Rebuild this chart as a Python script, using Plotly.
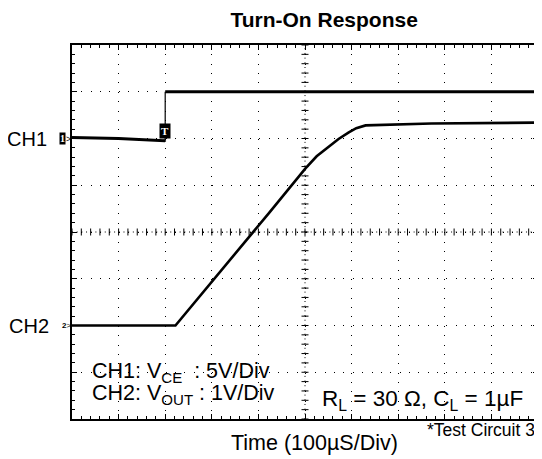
import numpy as np
import plotly.graph_objects as go

# ---- data (in scope divisions: x 0..10, y 0..8) ----
ch1_x = [0.0, 1.0, 1.98, 2.0, 2.0, 10.0]
ch1_y = [6.02, 6.0, 5.95, 5.97, 7.0, 7.0]

ch2_x = [0.0, 2.22, 4.23, 5.01, 5.25, 5.51, 5.72, 5.94, 6.10, 6.30, 7.71, 10.0]
ch2_y = [2.0, 2.0, 4.41, 5.36, 5.62, 5.82, 5.99, 6.13, 6.22, 6.28, 6.32, 6.34]

trigger_x = 2.0
n_xdiv = 10
n_ydiv = 8

FONT = "Arial, Liberation Sans, sans-serif"
FIG_W, FIG_H = 534, 451

fig = go.Figure()

# centre cross minor ticks (scope graticule)
cx = n_xdiv / 2
cy = n_ydiv / 2
tx = np.arange(0, n_xdiv + 0.001, 0.2)
ty = np.arange(0, n_ydiv + 0.001, 0.2)
fig.add_trace(go.Scatter(x=tx, y=[cy] * len(tx), mode="markers",
                         marker=dict(symbol="line-ns-open", size=5, color="black",
                                     line=dict(width=1, color="black")),
                         hoverinfo="skip", showlegend=False))
fig.add_trace(go.Scatter(x=[cx] * len(ty), y=ty, mode="markers",
                         marker=dict(symbol="line-ew-open", size=5, color="black",
                                     line=dict(width=1, color="black")),
                         hoverinfo="skip", showlegend=False))

# CH1 trace: flat before trigger, jump, flat after
fig.add_trace(go.Scatter(x=ch1_x[:4], y=ch1_y[:4], mode="lines",
                         line=dict(color="black", width=3), showlegend=False))
fig.add_trace(go.Scatter(x=ch1_x[3:5], y=ch1_y[3:5], mode="lines",
                         line=dict(color="black", width=1.2), showlegend=False))
fig.add_trace(go.Scatter(x=ch1_x[4:], y=ch1_y[4:], mode="lines",
                         line=dict(color="black", width=3.2), showlegend=False))
# CH2 trace
fig.add_trace(go.Scatter(x=ch2_x, y=ch2_y, mode="lines",
                         line=dict(color="black", width=2.6), showlegend=False))

# centre lines denser dots
fig.add_shape(type="line", x0=cx, x1=cx, y0=0, y1=n_ydiv, xref="x", yref="y",
              line=dict(color="black", width=1, dash="1px,3.68px"), layer="below")
fig.add_shape(type="line", x0=0, x1=n_xdiv, y0=cy, y1=cy, xref="x", yref="y",
              line=dict(color="black", width=1, dash="1px,3.68px"), layer="below")

ann = []
# channel labels
ann.append(dict(x=0, y=6.0, xref="x", yref="y", text="CH1", showarrow=False,
                xanchor="right", xshift=-23, font=dict(size=20, color="black", family=FONT)))
ann.append(dict(x=0, y=2.0, xref="x", yref="y", text="CH2", showarrow=False,
                xanchor="right", xshift=-21, font=dict(size=20, color="black", family=FONT)))
ann.append(dict(x=0, y=6.0, xref="x", yref="y", text="<b>1</b>", showarrow=False,
                xanchor="right", xshift=-6, bgcolor="black", borderpad=0,
                font=dict(size=10, color="white", family="Liberation Serif, serif")))
ann.append(dict(x=0, y=6.0, xref="x", yref="y", text=">", showarrow=False,
                xanchor="right", xshift=1, font=dict(size=9, color="black", family=FONT)))
ann.append(dict(x=0, y=2.0, xref="x", yref="y", text="<b>2</b>>", showarrow=False,
                xanchor="right", xshift=1, font=dict(size=8, color="black", family=FONT)))
# trigger marker
ann.append(dict(x=trigger_x, y=6.15, xref="x", yref="y", text="<b>T</b>", showarrow=False,
                bgcolor="black", borderpad=1,
                font=dict(size=11, color="white", family="Liberation Serif, serif")))
# in-plot notes
ann.append(dict(x=0.38, y=1.0, xref="x", yref="y", xanchor="left",
                text="CH1: V<sub>CE</sub>\u00a0\u00a0: 5V/Div", showarrow=False,
                font=dict(size=21.5, color="black", family=FONT)))
ann.append(dict(x=0.38, y=0.52, xref="x", yref="y", xanchor="left",
                text="CH2: V<sub>OUT</sub> : 1V/Div", showarrow=False,
                font=dict(size=21.5, color="black", family=FONT)))
ann.append(dict(x=9.72, y=0.4, xref="x", yref="y", xanchor="right",
                text="R<sub>L</sub> = 30 \u03a9, C<sub>L</sub> = 1\u00b5F", showarrow=False,
                font=dict(size=22.5, color="black", family=FONT)))
# below plot
ann.append(dict(x=0.998, y=-0.03, xref="paper", yref="paper", xanchor="right", yanchor="middle",
                text="*Test Circuit 3", showarrow=False,
                font=dict(size=17.5, color="black", family=FONT)))
ann.append(dict(x=0.52, y=-0.064, xref="paper", yref="paper", xanchor="center", yanchor="middle",
                text="Time (100\u00b5S/Div)", showarrow=False,
                font=dict(size=21.5, color="black", family=FONT)))

axis_common = dict(
    showgrid=True, gridcolor="black", gridwidth=1, griddash="1px,8.36px",
    zeroline=False, showline=True, linecolor="black", linewidth=1.5, mirror="ticks",
    ticks="inside", ticklen=5, tickcolor="black", tickwidth=1,
    showticklabels=False, dtick=1, tick0=0, fixedrange=True,
    minor=dict(dtick=0.2, ticks="inside", ticklen=3, tickcolor="black", tickwidth=1, showgrid=False),
)

# page body has an 8px default margin, so the figure is made smaller than the window
fig.update_layout(
    width=FIG_W, height=FIG_H,
    margin=dict(l=64, r=2, t=37, b=40),
    paper_bgcolor="white", plot_bgcolor="white",
    title=dict(text="<b>Turn-On Response</b>", x=0.592, xanchor="center",
               y=1 - 12 / FIG_H, yanchor="middle", yref="container",
               font=dict(size=21, color="black", family=FONT)),
    xaxis=dict(range=[0, n_xdiv], **axis_common),
    yaxis=dict(range=[0, n_ydiv], **axis_common),
    annotations=ann,
    showlegend=False,
)

fig.write_html("out.html")
